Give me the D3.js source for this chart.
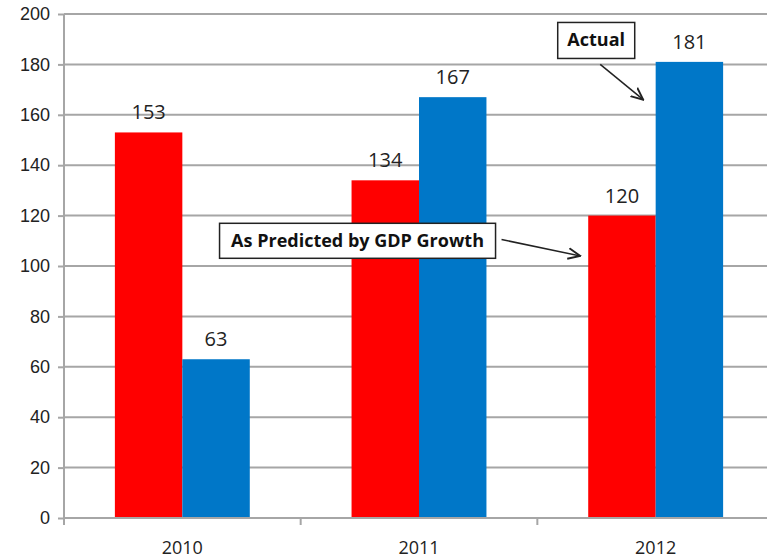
<!DOCTYPE html>
<html>
<head>
<meta charset="utf-8">
<script src="https://cdn.jsdelivr.net/npm/d3@7"></script>
<style>
  body { margin: 0; background: #fff; }
  svg { display: block; font-family: "Open Sans", "Liberation Sans", sans-serif; }
</style>
</head>
<body>
<svg id="chart"></svg>
<script>
// Chart data
var years = ["2010", "2011", "2012"];
var series = ["predicted", "actual"];
var predicted = [153, 134, 120];
var actual = [63, 167, 181];
var yTicks = [0, 20, 40, 60, 80, 100, 120, 140, 160, 180, 200];
var colors = ["#ff0000", "#0077c8"];

var width = 767, height = 559;
var margin = { top: 14, right: -7, bottom: 41, left: 64 };
var innerW = width - margin.left - margin.right;
var innerH = height - margin.top - margin.bottom;

var svg = d3.select("#chart")
    .attr("width", width)
    .attr("height", height);

var g = svg.append("g")
    .attr("transform", "translate(" + margin.left + "," + margin.top + ")");

var x = d3.scaleBand()
    .domain(years)
    .range([0, innerW]);

var xInner = d3.scaleBand()
    .domain(series)
    .range([0, x.bandwidth() * 0.57])
    .padding(0);

var y = d3.scaleLinear()
    .domain([0, 200])
    .range([innerH, 0]);

// Gridlines
g.selectAll(".grid")
    .data(yTicks)
    .enter().append("line")
    .attr("x1", 0)
    .attr("x2", innerW)
    .attr("y1", d => y(d))
    .attr("y2", d => y(d))
    .attr("stroke", "#a6a6a6")
    .attr("stroke-width", 2);

// Y axis
var yAxis = g.append("g")
    .call(d3.axisLeft(y).tickValues(yTicks).tickSize(6).tickPadding(8));
yAxis.select(".domain").remove();
yAxis.selectAll("line").attr("stroke", "#a6a6a6").attr("stroke-width", 2);
yAxis.selectAll("text")
    .attr("fill", "#222")
    .style("font-size", "18px");

g.append("line")
    .attr("x1", 0).attr("x2", 0)
    .attr("y1", 0).attr("y2", innerH + 7)
    .attr("stroke", "#a6a6a6")
    .attr("stroke-width", 2);

// Bars
var rows = years.map((yr, i) => ({ year: yr, values: [predicted[i], actual[i]] }));
var offset = (x.bandwidth() - xInner.range()[1]) / 2;

var groups = g.selectAll(".yr")
    .data(rows)
    .enter().append("g")
    .attr("transform", d => "translate(" + (x(d.year) + offset) + ",0)");

groups.selectAll("rect")
    .data(d => d.values.map((v, j) => ({ key: series[j], value: v, idx: j })))
    .enter().append("rect")
    .attr("x", d => xInner(d.key))
    .attr("y", d => y(d.value))
    .attr("width", xInner.bandwidth())
    .attr("height", d => innerH - y(d.value))
    .attr("fill", d => colors[d.idx]);

groups.selectAll(".val")
    .data(d => d.values.map((v, j) => ({ key: series[j], value: v })))
    .enter().append("text")
    .attr("x", d => xInner(d.key) + xInner.bandwidth() / 2)
    .attr("y", d => y(d.value) - 13)
    .attr("text-anchor", "middle")
    .attr("fill", "#222")
    .style("font-size", "20px")
    .text(d => d.value);

// X axis
g.append("line")
    .attr("x1", 0).attr("x2", innerW)
    .attr("y1", innerH).attr("y2", innerH)
    .attr("stroke", "#a6a6a6")
    .attr("stroke-width", 2);

g.selectAll(".xtick")
    .data(years.slice(1))
    .enter().append("line")
    .attr("x1", d => x(d)).attr("x2", d => x(d))
    .attr("y1", innerH).attr("y2", innerH + 7)
    .attr("stroke", "#a6a6a6")
    .attr("stroke-width", 2);

g.selectAll(".xlabel")
    .data(years)
    .enter().append("text")
    .attr("x", d => x(d) + x.bandwidth() / 2)
    .attr("y", innerH + 36)
    .attr("text-anchor", "middle")
    .attr("fill", "#222")
    .style("font-size", "18px")
    .text(d => d);

// Annotations
svg.append("defs").append("marker")
    .attr("id", "arrow")
    .attr("viewBox", "0 0 10 10")
    .attr("refX", 9).attr("refY", 5)
    .attr("markerWidth", 9).attr("markerHeight", 9)
    .attr("orient", "auto")
    .append("path")
    .attr("d", "M0,1 L9,5 L0,9")
    .attr("fill", "none")
    .attr("stroke", "#222")
    .attr("stroke-width", 1.4);

function callout(label, cx, cy, w, h, from, to) {
    g.append("line")
        .attr("x1", from[0]).attr("y1", from[1])
        .attr("x2", to[0]).attr("y2", to[1])
        .attr("stroke", "#222")
        .attr("stroke-width", 1.5)
        .attr("marker-end", "url(#arrow)");
    g.append("rect")
        .attr("x", cx - w / 2).attr("y", cy - h / 2)
        .attr("width", w).attr("height", h)
        .attr("fill", "#fff")
        .attr("stroke", "#222")
        .attr("stroke-width", 1.5);
    g.append("text")
        .attr("x", cx).attr("y", cy + 6)
        .attr("text-anchor", "middle")
        .attr("fill", "#111")
        .style("font-size", "18px")
        .style("font-weight", "bold")
        .text(label);
}

var x2012 = x("2012") + offset;
var x2011 = x("2011") + offset;
callout("Actual", x2012 + 8, y(189.5), 77, 36,
    [x2012 + 12, y(180)], [x2012 + 55, y(166)]);
callout("As Predicted by GDP Growth", x2011 + 6, y(110), 276, 35,
    [x2011 + 150, y(110.5)], [x2012 - 8, y(104)]);
</script>
</body>
</html>
